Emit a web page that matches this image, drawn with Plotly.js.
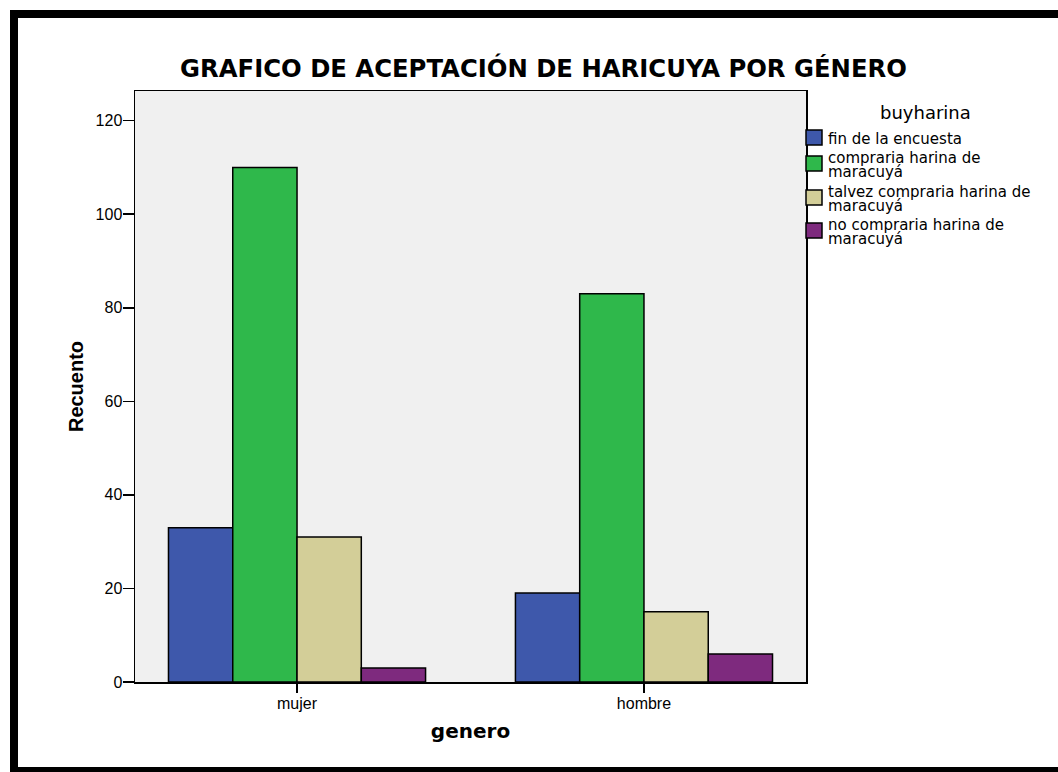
<!DOCTYPE html>
<html>
<head>
<meta charset="utf-8">
<script src="https://cdn.plot.ly/plotly-3.0.1.min.js"></script>
<style>
  html, body { margin: 0; padding: 0; background: #fff; }
  #wrap { position: relative; width: 1058px; height: 772px; overflow: hidden; }
  #chart { position: absolute; left: 0; top: 0; width: 1058px; height: 772px; }
  .bar { position: absolute; background: #000; }
</style>
</head>
<body>
<div id="wrap">
  <div id="chart"></div>
  <div class="bar" style="left:10px; top:10px; width:1048px; height:8px;"></div>
  <div class="bar" style="left:10px; top:10px; width:8px; height:762px;"></div>
  <div class="bar" style="left:10px; top:767px; width:1048px; height:5px;"></div>
</div>
<script>
const categories = ["mujer", "hombre"];
const seriesNames = [
  "fin de la encuesta",
  "compraria harina de<br>maracuyá",
  "talvez compraria harina de<br>maracuyá",
  "no compraria harina de<br>maracuyá"
];
const finEncuesta = [33, 19];
const comprariaHarina = [110, 83];
const talvezCompraria = [31, 15];
const noCompraria = [3, 6];
const yTicks = [0, 20, 40, 60, 80, 100, 120];
const legendTitle = "buyharina";
const colors = ["#3e58ab", "#2fb84b", "#d3ce98", "#7e2a7e"];

const W = 1058, H = 772;
const M = { l: 135, r: 252, t: 91, b: 90 };
const PW = W - M.l - M.r, PH = H - M.t - M.b;
const px2x = px => (px - M.l) / PW;
const px2y = py => (H - M.b - py) / PH;

const seriesValues = [finEncuesta, comprariaHarina, talvezCompraria, noCompraria];
const traces = seriesValues.map((vals, i) => ({
  type: "bar",
  x: categories,
  y: vals,
  name: seriesNames[i].replace("<br>", " "),
  marker: { color: colors[i], line: { color: "#000", width: 1.5 } },
  hoverinfo: "x+y+name"
}));

// manual legend (tight line spacing like the original)
const shapes = [];
const annotations = [];
const legendFont = { family: "DejaVu Sans, sans-serif", size: 15, color: "#000" };
const swatchTops = [130, 156, 190, 223];
seriesNames.forEach((nm, i) => {
  const top = swatchTops[i];
  shapes.push({
    type: "rect", xref: "paper", yref: "paper",
    x0: px2x(806), x1: px2x(822), y0: px2y(top + 15), y1: px2y(top),
    fillcolor: colors[i], line: { color: "#000", width: 1.5 }
  });
  const lines = nm.split("<br>");
  const center = top + 7.5 + 1.5;
  lines.forEach((ln, k) => {
    const cy = center + (k - (lines.length - 1) / 2) * 14.5;
    annotations.push({
      xref: "paper", yref: "paper",
      x: px2x(826), y: px2y(cy), xanchor: "left", yanchor: "middle",
      text: ln, showarrow: false, font: legendFont
    });
  });
});
annotations.push({
  xref: "paper", yref: "paper",
  x: px2x(926), y: px2y(112), xanchor: "center", yanchor: "middle",
  text: legendTitle, showarrow: false,
  font: { family: "DejaVu Sans, sans-serif", size: 18, color: "#000" }
});

const layout = {
  width: W,
  height: H,
  margin: M,
  paper_bgcolor: "#ffffff",
  plot_bgcolor: "#f0f0f0",
  font: { family: "Liberation Sans, Arial, sans-serif", color: "#000" },
  barmode: "group",
  bargap: 0.259,
  bargroupgap: 0,
  showlegend: false,
  title: {
    text: "<b>GRAFICO DE ACEPTACIÓN DE HARICUYA POR GÉNERO</b>",
    font: { size: 24.3, color: "#000", family: "DejaVu Sans, sans-serif" },
    x: 543.5 / W, xanchor: "center", xref: "container",
    y: 1 - 68 / H, yanchor: "middle", yref: "container"
  },
  xaxis: {
    type: "category",
    range: [-0.467, 1.467],
    showline: true, linecolor: "#000", linewidth: 1.5, mirror: true,
    ticks: "outside", ticklen: 9, tickwidth: 1.5, tickcolor: "#000",
    tickfont: { size: 16 },
    ticklabelstandoff: -3,
    showgrid: false, zeroline: false,
    title: { text: "<b>genero</b>", font: { size: 20, family: "DejaVu Sans, sans-serif" }, standoff: 13 }
  },
  yaxis: {
    range: [0, PH / 4.678],
    tickvals: yTicks,
    ticktext: yTicks.map(String),
    showline: true, linecolor: "#000", linewidth: 1.5, mirror: true,
    ticks: "outside", ticklen: 11, tickwidth: 1.5, tickcolor: "#000",
    tickfont: { size: 16 },
    ticklabelstandoff: -3,
    showgrid: false, zeroline: false,
    title: { text: "<b>Recuento</b>", font: { size: 20 }, standoff: 6 }
  },
  shapes: shapes,
  annotations: annotations
};

Plotly.newPlot("chart", traces, layout, { displayModeBar: false, staticPlot: true });
</script>
</body>
</html>
